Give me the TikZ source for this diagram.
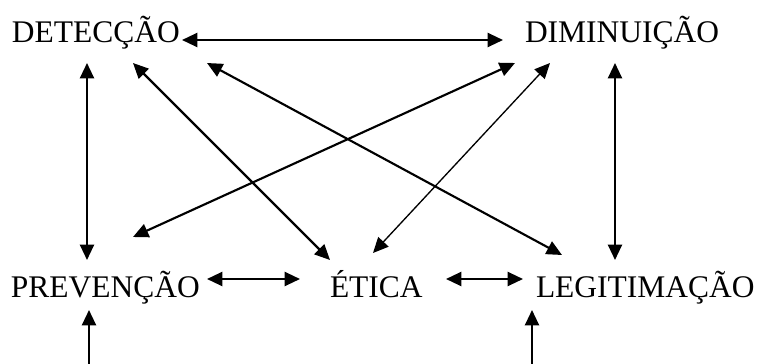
\documentclass[tikz,border=0pt]{standalone}
\usepackage{fontspec}
\setmainfont{Liberation Serif}
\usetikzlibrary{arrows.meta,calc}
\tikzset{
  lbl/.style={anchor=base west,inner sep=0pt,outer sep=0pt,font=\fontsize{23.6}{28}\selectfont},
  conn/.style={line width=1.6pt,{Triangle[length=11.5pt,width=10.5pt]}-{Triangle[length=11.5pt,width=10.5pt]}},
  thinconn/.style={line width=1pt,{Triangle[length=11.5pt,width=10.5pt]}-{Triangle[length=11.5pt,width=10.5pt]}},
  oneway/.style={line width=1.6pt,-{Triangle[length=11.5pt,width=10.5pt]}}
}
\begin{document}
\begin{tikzpicture}[x=0.75pt,y=-0.75pt]
\useasboundingbox (0,0) rectangle (758,364);
\node[lbl] (det) at (12,42) {DETECÇÃO};
\node[lbl] (dim) at (525,42) {DIMINUIÇÃO};
\node[lbl] (prev) at (11,297) {PREVENÇÃO};
\node[lbl] (etica) at (330,297) {ÉTICA};
\node[lbl] (leg) at (536,297) {LEGITIMAÇÃO};
\coordinate (b1) at (89,364);
\coordinate (b2) at (532,364);
% top horizontal
\draw[conn] ($(det.base west)+(170,-2)$) -- ($(dim.base west)+(-22,-2)$);
% verticals
\draw[conn] ($(det.base west)+(75,21)$) -- ($(prev.base west)+(76,-37)$);
\draw[conn] ($(dim.base west)+(90,21)$) -- ($(leg.base west)+(79,-37)$);
% diagonals
\draw[conn] ($(det.base west)+(121,21)$) -- ($(etica.base west)+(0,-37)$);
\draw[conn] ($(det.base west)+(195,21)$) -- ($(leg.base west)+(26,-42)$);
\draw[conn] ($(dim.base west)+(-10,21)$) -- ($(prev.base west)+(122,-60)$);
\draw[thinconn] ($(dim.base west)+(25,21)$) -- ($(etica.base west)+(43,-44)$);
% bottom horizontals
\draw[conn] ($(prev.base west)+(196,-18)$) -- ($(etica.base west)+(-30,-18)$);
\draw[conn] ($(etica.base west)+(116,-18)$) -- ($(leg.base west)+(-13,-18)$);
% bottom incoming
\draw[oneway] (b1) -- ($(prev.base west)+(78,13)$);
\draw[oneway] (b2) -- ($(leg.base west)+(-4,13)$);
\end{tikzpicture}
\end{document}
